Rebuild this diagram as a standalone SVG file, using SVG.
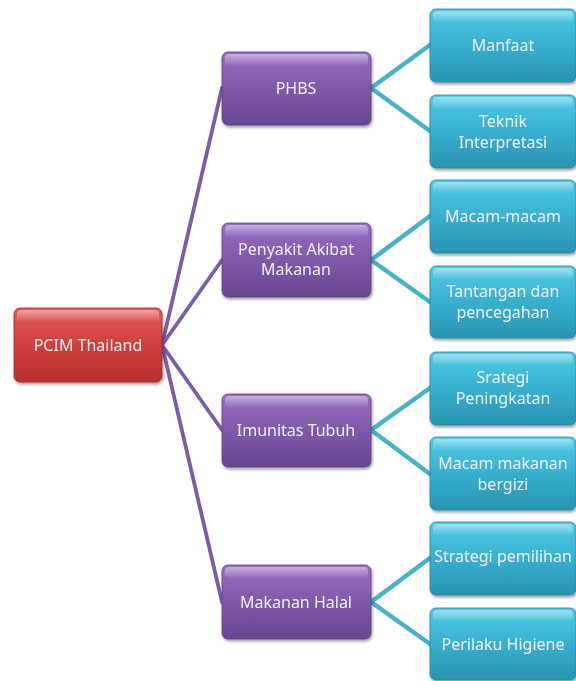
<svg xmlns="http://www.w3.org/2000/svg" width="576" height="681" viewBox="0 0 576 681">
<defs>
<linearGradient id="gRed" x1="0" y1="0" x2="0" y2="1">
<stop offset="0" stop-color="#e05a58"/><stop offset="0.5" stop-color="#cf403d"/><stop offset="1" stop-color="#b8302e"/>
</linearGradient>
<linearGradient id="gPur" x1="0" y1="0" x2="0" y2="1">
<stop offset="0" stop-color="#9c6cc4"/><stop offset="0.5" stop-color="#8058a8"/><stop offset="1" stop-color="#6a4590"/>
</linearGradient>
<linearGradient id="gTeal" x1="0" y1="0" x2="0" y2="1">
<stop offset="0" stop-color="#4fc9e4"/><stop offset="0.5" stop-color="#36b0cf"/><stop offset="1" stop-color="#2894b0"/>
</linearGradient>
<linearGradient id="gHi" x1="0" y1="0" x2="0" y2="1">
<stop offset="0" stop-color="#fff" stop-opacity="0.45"/><stop offset="1" stop-color="#fff" stop-opacity="0"/>
</linearGradient>
<filter id="sh" x="-10%" y="-10%" width="125%" height="130%">
<feGaussianBlur in="SourceAlpha" stdDeviation="1.5"/>
<feOffset dx="1" dy="2" result="o"/>
<feComponentTransfer><feFuncA type="linear" slope="0.4"/></feComponentTransfer>
<feMerge><feMergeNode/><feMergeNode in="SourceGraphic"/></feMerge>
</filter>
</defs>
<style>
.red{fill:url(#gRed);stroke:#a82a28;stroke-width:0.8}
.pur{fill:url(#gPur);stroke:#5e3c82;stroke-width:0.8}
.teal{fill:url(#gTeal);stroke:#21869f;stroke-width:0.8}
.hi{fill:url(#gHi)}
.t{font-family:"Noto Sans","Open Sans","Liberation Sans",sans-serif;font-size:16px;fill:#f6f0f8;text-anchor:middle}
.lp{stroke:#7b5ca8;stroke-width:3.8;fill:none;stroke-linecap:round}
.lt{stroke:#45b2c8;stroke-width:4.5;fill:none;stroke-linecap:round}
</style>
<g id="connectors">
<path class="lp" d="M162,345 L222,88 M162,345 L222,260 M162,345 L222,430 M162,345 L222,602"/>
<path class="lt" d="M371,88 L430,45 M371,88 L430,131"/>
<path class="lt" d="M371,260 L430,216 M371,260 L430,302"/>
<path class="lt" d="M371,430 L430,388 M371,430 L430,474"/>
<path class="lt" d="M371,602 L430,558 M371,602 L430,644"/>
</g>
<g id="root" filter="url(#sh)">
<rect class="red" x="14" y="308" width="148" height="74" rx="6"/>
<rect class="hi" x="17" y="310" width="142" height="12" rx="4"/>
<text class="t" x="88" y="351">PCIM Thailand</text>
</g>
<g id="phbs" filter="url(#sh)">
<rect class="pur" x="222" y="52" width="149" height="73" rx="6"/>
<rect class="hi" x="225" y="54" width="143" height="12" rx="4"/>
<text class="t" x="296" y="94">PHBS</text>
</g>
<g id="penyakit" filter="url(#sh)">
<rect class="pur" x="222" y="223" width="149" height="74" rx="6"/>
<rect class="hi" x="225" y="225" width="143" height="12" rx="4"/>
<text class="t" x="296" y="255">Penyakit Akibat</text>
<text class="t" x="296" y="275">Makanan</text>
</g>
<g id="imunitas" filter="url(#sh)">
<rect class="pur" x="222" y="394" width="149" height="73" rx="6"/>
<rect class="hi" x="225" y="396" width="143" height="12" rx="4"/>
<text class="t" x="296" y="436">Imunitas Tubuh</text>
</g>
<g id="halal" filter="url(#sh)">
<rect class="pur" x="222" y="565" width="149" height="74" rx="6"/>
<rect class="hi" x="225" y="567" width="143" height="12" rx="4"/>
<text class="t" x="296" y="608">Makanan Halal</text>
</g>
<g id="manfaat" filter="url(#sh)">
<rect class="teal" x="430" y="9" width="146" height="73" rx="6"/>
<rect class="hi" x="433" y="11" width="140" height="12" rx="4"/>
<text class="t" x="503" y="51">Manfaat</text>
</g>
<g id="teknik" filter="url(#sh)">
<rect class="teal" x="430" y="95" width="146" height="73" rx="6"/>
<rect class="hi" x="433" y="97" width="140" height="12" rx="4"/>
<text class="t" x="503" y="127">Teknik</text>
<text class="t" x="503" y="148">Interpretasi</text>
</g>
<g id="macam" filter="url(#sh)">
<rect class="teal" x="430" y="180" width="146" height="73" rx="6"/>
<rect class="hi" x="433" y="182" width="140" height="12" rx="4"/>
<text class="t" x="503" y="222">Macam-macam</text>
</g>
<g id="tantangan" filter="url(#sh)">
<rect class="teal" x="430" y="266" width="146" height="72" rx="6"/>
<rect class="hi" x="433" y="268" width="140" height="12" rx="4"/>
<text class="t" x="503" y="297">Tantangan dan</text>
<text class="t" x="503" y="318">pencegahan</text>
</g>
<g id="srategi" filter="url(#sh)">
<rect class="teal" x="430" y="352" width="146" height="73" rx="6"/>
<rect class="hi" x="433" y="354" width="140" height="12" rx="4"/>
<text class="t" x="503" y="383">Srategi</text>
<text class="t" x="503" y="404">Peningkatan</text>
</g>
<g id="gizi" filter="url(#sh)">
<rect class="teal" x="430" y="437" width="146" height="73" rx="6"/>
<rect class="hi" x="433" y="439" width="140" height="12" rx="4"/>
<text class="t" x="503" y="469">Macam makanan</text>
<text class="t" x="503" y="490">bergizi</text>
</g>
<g id="pemilihan" filter="url(#sh)">
<rect class="teal" x="430" y="522" width="146" height="73" rx="6"/>
<rect class="hi" x="433" y="524" width="140" height="12" rx="4"/>
<text class="t" x="503" y="562">Strategi pemilihan</text>
</g>
<g id="higiene" filter="url(#sh)">
<rect class="teal" x="430" y="608" width="146" height="72" rx="6"/>
<rect class="hi" x="433" y="610" width="140" height="12" rx="4"/>
<text class="t" x="503" y="650">Perilaku Higiene</text>
</g>
</svg>
